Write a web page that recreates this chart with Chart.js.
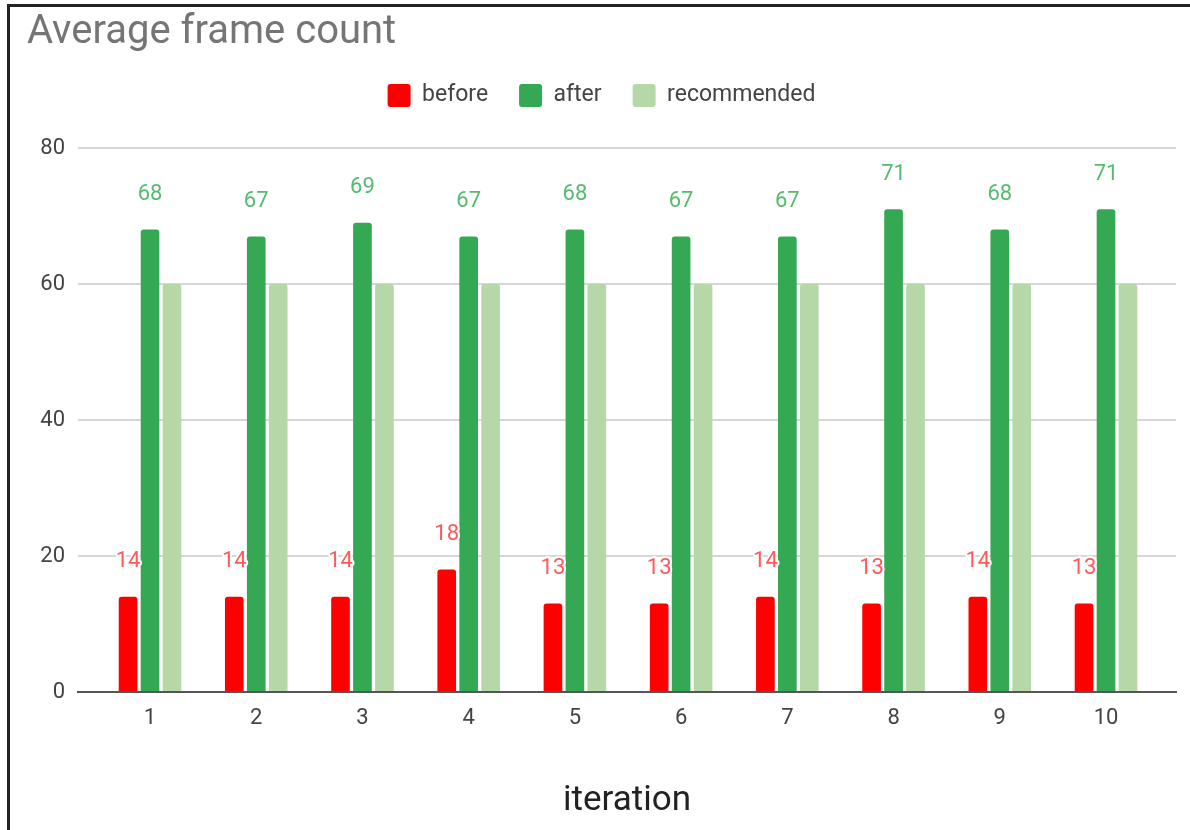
<!DOCTYPE html>
<html>
<head>
<meta charset="utf-8">
<title>Average frame count</title>
<script src="https://cdn.jsdelivr.net/npm/chart.js@4.4.0/dist/chart.umd.min.js"></script>
<style>
  html, body { margin: 0; padding: 0; background: #fff; }
  #wrap { position: relative; width: 1190px; height: 830px; overflow: hidden; }
  #frame {
    position: absolute; left: 7px; top: 4px; right: 0; bottom: 0;
    border-top: 3px solid #222; border-left: 3px solid #222;
    pointer-events: none;
  }
  canvas { position: absolute; left: 0; top: 0; }
</style>
</head>
<body>
<div id="wrap">
  <canvas id="myChart" width="1190" height="830"></canvas>
  <div id="frame"></div>
</div>
<script>
// data
const iterations = [1, 2, 3, 4, 5, 6, 7, 8, 9, 10];
const before = [14, 14, 14, 18, 13, 13, 14, 13, 14, 13];
const after = [68, 67, 69, 67, 68, 67, 67, 71, 68, 71];
const recommended = [60, 60, 60, 60, 60, 60, 60, 60, 60, 60];
const yTicks = [0, 20, 40, 60, 80];

const FONT = "Roboto, 'Liberation Sans', Arial, sans-serif";

// value labels above the bars (no datalabels plugin available offline)
const valueLabels = {
    id: "valueLabels",
    afterDatasetsDraw(chart, args, opts) {
        const ctx = chart.ctx;
        ctx.save();
        ctx.font = opts.size + "px " + FONT;
        ctx.textAlign = "center";
        ctx.textBaseline = "middle";
        ctx.lineJoin = "round";
        chart.data.datasets.forEach((ds, i) => {
            const color = opts.colors[i];
            if (!color) return;
            chart.getDatasetMeta(i).data.forEach((bar, j) => {
                const y = bar.y - opts.offset;
                ctx.lineWidth = 4;
                ctx.strokeStyle = "#fff";
                ctx.strokeText(ds.data[j], bar.x, y);
                ctx.fillStyle = color;
                ctx.fillText(ds.data[j], bar.x, y);
            });
        });
        ctx.restore();
    }
};

const barStyle = {
    borderWidth: 0,
    borderRadius: { topLeft: 3, topRight: 3 },
    borderSkipped: "bottom",
    categoryPercentage: 0.62,
    barPercentage: 0.85
};

const ctx = document.getElementById("myChart");

new Chart(ctx, {
    type: "bar",
    data: {
        labels: iterations,
        datasets: [
            Object.assign({ label: "before", data: before, backgroundColor: "#ff0000" }, barStyle),
            Object.assign({ label: "after", data: after, backgroundColor: "#34a853" }, barStyle),
            Object.assign({ label: "recommended", data: recommended, backgroundColor: "#b6d7a8" }, barStyle)
        ]
    },
    options: {
        responsive: false,
        animation: false,
        devicePixelRatio: 1,
        layout: { padding: { left: 27, right: 14, top: 13, bottom: 8 } },
        plugins: {
            title: {
                display: true,
                text: "Average frame count",
                align: "start",
                color: "#757575",
                font: { family: FONT, size: 40, weight: "normal", lineHeight: 1 },
                padding: { top: 0, bottom: 0 }
            },
            legend: {
                position: "top",
                labels: {
                    color: "#444",
                    font: { family: FONT, size: 23 },
                    boxWidth: 23,
                    boxHeight: 23,
                    padding: 31,
                    useBorderRadius: true,
                    borderRadius: 3
                }
            },
            // empty spacer between legend and plot
            subtitle: {
                display: true,
                text: "",
                weight: 500,
                font: { size: 31, lineHeight: 1 },
                padding: 0
            },
            tooltip: { enabled: false },
            valueLabels: {
                size: 22,
                offset: 35,
                colors: ["#ff5a5a", "#57bb6f", null]
            }
        },
        scales: {
            x: {
                type: "linear",
                offset: false,
                min: 0.322,
                max: 10.659,
                afterBuildTicks: (s) => { s.ticks = iterations.map(v => ({ value: v })); },
                afterFit: (s) => { s.height = 130; },
                ticks: {
                    stepSize: 1,
                    includeBounds: false,
                    color: "#444",
                    font: { family: FONT, size: 22 },
                    padding: 13
                },
                grid: { display: false, drawTicks: false },
                border: { display: true, color: "#555", width: 2 },
                title: {
                    display: true,
                    text: "iteration",
                    color: "#222",
                    font: { family: FONT, size: 35 },
                    padding: { top: 0, bottom: 0 }
                }
            },
            y: {
                min: yTicks[0],
                max: yTicks[yTicks.length - 1],
                afterFit: (s) => { s.width = 51; },
                afterBuildTicks: (s) => { s.ticks = yTicks.map(v => ({ value: v })); },
                ticks: {
                    color: "#444",
                    font: { family: FONT, size: 22 },
                    padding: 13
                },
                grid: { color: "#d6d6d6", lineWidth: 2, drawTicks: false },
                border: { display: false }
            }
        }
    },
    plugins: [valueLabels]
});
</script>
</body>
</html>
